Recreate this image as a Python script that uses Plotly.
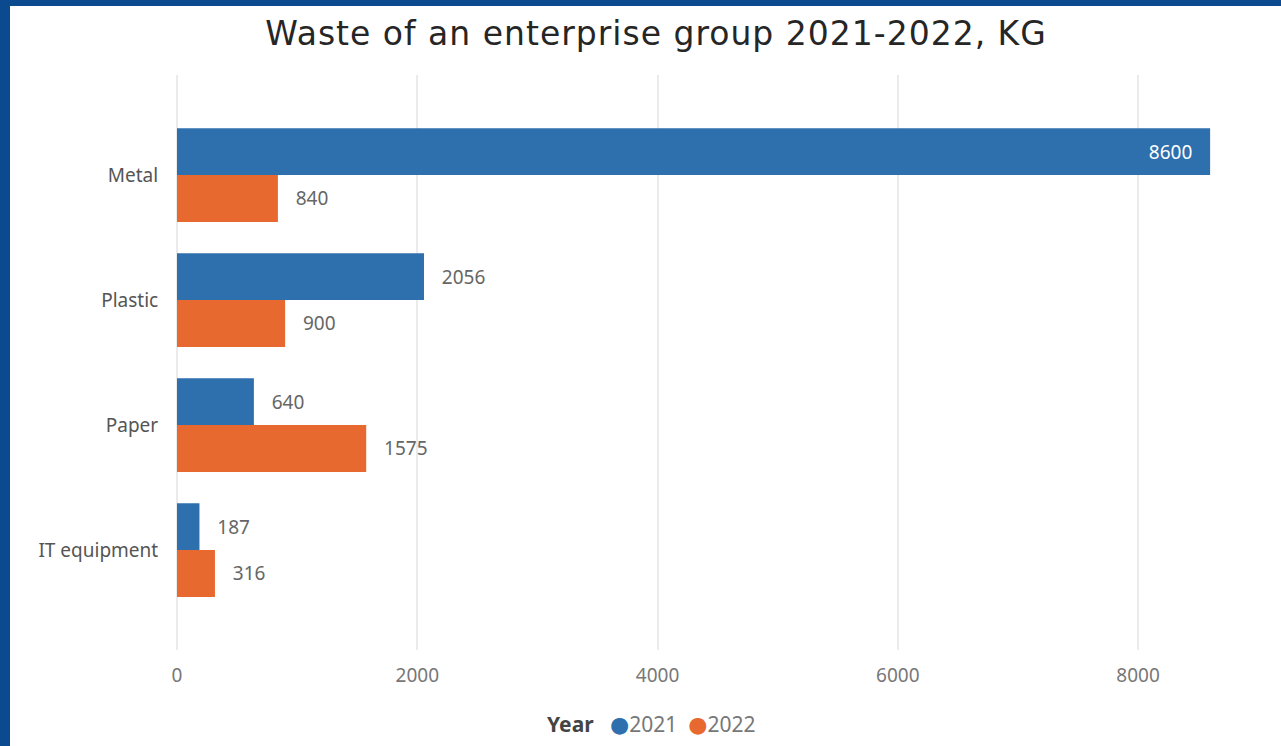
import plotly.graph_objects as go

# Waste per category, kilograms
categories = ["Metal", "Plastic", "Paper", "IT equipment"]
years = ["2021", "2022"]
waste_2021 = [8600, 2056, 640, 187]
waste_2022 = [840, 900, 1575, 316]
x_ticks = [0, 2000, 4000, 6000, 8000]

colors = {"2021": "#2e6fae", "2022": "#e8692f"}
label_grey = "#666666"
border_blue = "#0b4a8e"

W, H = 1281, 746
ML, MR, MT, MB = 177, 47, 75, 96
PW, PH = W - ML - MR, H - MT - MB

fig = go.Figure()

series = {"2021": waste_2021, "2022": waste_2022}
x_max = max(max(waste_2021), max(waste_2022))
for yr in years:
    vals = series[yr]
    # the widest bar keeps its label inside, the rest sit just past the bar end
    positions = ["inside" if v == x_max else "outside" for v in vals]
    templates = ["%{x}&nbsp;&nbsp;&nbsp;" if v == x_max else "&nbsp;&nbsp;&nbsp;%{x}" for v in vals]
    fig.add_trace(go.Bar(
        name=yr,
        y=categories,
        x=vals,
        orientation="h",
        marker=dict(color=colors[yr], line=dict(width=0)),
        texttemplate=templates,
        textposition=positions,
        insidetextanchor="end",
        insidetextfont=dict(color="white", size=19, family="Noto Sans"),
        outsidetextfont=dict(color=label_grey, size=19, family="Noto Sans"),
        cliponaxis=False,
        showlegend=False,
    ))

# legend line: bold title followed by coloured dots and year labels
dot_style = "font-family:DejaVu Sans;font-size:22px"
legend_html = "<b>Year</b>&nbsp;&nbsp;&nbsp;" + "&nbsp;&nbsp;".join(
    f"<span style='color:{colors[yr]};{dot_style}'>●</span><span style='color:#777777'>{yr}</span>"
    for yr in years
)

fig.update_layout(
    width=W, height=H,
    margin=dict(l=ML, r=MR, t=MT, b=MB),
    paper_bgcolor="white",
    plot_bgcolor="white",
    barmode="group",
    bargap=0.25,
    bargroupgap=0,
    font=dict(family="Noto Sans", color=label_grey),
    title=dict(
        text="<span style='letter-spacing:1px'>Waste of an enterprise group 2021-2022, KG</span>",
        x=656 / W, xanchor="center",
        y=1 - 33 / H, yanchor="middle",
        font=dict(family="DejaVu Sans", size=33, color="#262626"),
    ),
    xaxis=dict(
        range=[0, PW / 0.12013],
        tickvals=x_ticks,
        showgrid=True, gridcolor="#ebebeb", gridwidth=2,
        zeroline=True, zerolinecolor="#ebebeb", zerolinewidth=2,
        showline=False,
        ticks="outside", ticklen=8, tickcolor="rgba(0,0,0,0)",
        tickfont=dict(size=19, color="#777777", family="Noto Sans"),
    ),
    yaxis=dict(
        type="category",
        categoryorder="array", categoryarray=categories,
        range=[3.8, -0.8],
        showgrid=False, zeroline=False, showline=False,
        ticks="outside", ticklen=14, tickcolor="rgba(0,0,0,0)",
        tickfont=dict(size=19, color="#555555", family="Noto Sans"),
    ),
    annotations=[dict(
        text=legend_html,
        xref="paper", yref="paper",
        x=(651 - ML) / PW, xanchor="center",
        y=-(724 - MT - PH) / PH, yanchor="middle",
        showarrow=False,
        font=dict(size=21, color="#444444", family="Noto Sans"),
    )],
    shapes=[
        # frame strips along the top and left edges of the page
        dict(type="rect", xref="paper", yref="paper", layer="above",
             x0=-ML / PW - 0.01, x1=(W - ML) / PW + 0.01,
             y0=1 + (MT - 6) / PH, y1=1 + MT / PH + 0.01,
             fillcolor=border_blue, line=dict(width=0)),
        dict(type="rect", xref="paper", yref="paper", layer="above",
             x0=-ML / PW - 0.01, x1=-(ML - 10) / PW,
             y0=-MB / PH - 0.01, y1=1 + MT / PH + 0.01,
             fillcolor=border_blue, line=dict(width=0)),
    ],
)

fig.write_html("out.html")
